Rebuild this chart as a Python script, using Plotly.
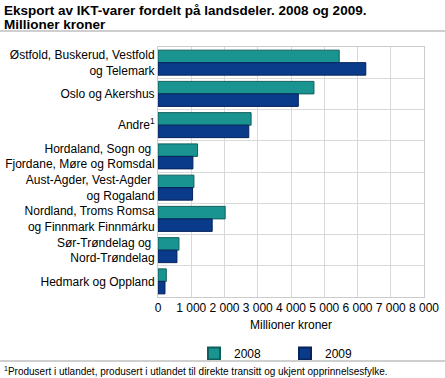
import plotly.graph_objects as go

categories = [
    "Østfold, Buskerud, Vestfold<br>og Telemark",
    "Oslo og Akershus",
    "Andre<sup>1</sup>",
    "Hordaland, Sogn og <br>Fjordane, Møre og Romsdal",
    "Aust-Agder, Vest-Agder <br>og Rogaland",
    "Nordland, Troms Romsa<br>og Finnmark Finnmárku",
    "Sør-Trøndelag og <br>Nord-Trøndelag",
    "Hedmark og Oppland",
]
values_2008 = [5450, 4690, 2800, 1190, 1080, 2020, 630, 250]
values_2009 = [6250, 4220, 2730, 1050, 1040, 1630, 570, 210]
x_ticks = [0, 1000, 2000, 3000, 4000, 5000, 6000, 7000, 8000]
x_ticklabels = ["0", "1 000", "2 000", "3 000", "4 000", "5 000", "6 000", "7 000", "8 000"]
title_lines = ["Eksport av IKT-varer fordelt på landsdeler. 2008 og 2009.", "Millioner kroner"]

pos = list(range(len(categories)))
font = "Liberation Sans"
W, H = 445, 378
L, T, R, B = 158, 47, 21, 81
PW, PH = W - L - R, H - T - B

fig = go.Figure()
fig.add_trace(go.Bar(y=pos, x=values_2008, name="2008", orientation="h",
                     marker=dict(color="#1a9490", line=dict(color="#0e5f5c", width=1))))
fig.add_trace(go.Bar(y=pos, x=values_2009, name="2009", orientation="h",
                     marker=dict(color="#0a3a8a", line=dict(color="#06235a", width=1))))

fig.update_layout(
    width=W, height=H,
    margin=dict(l=L, r=R, t=T, b=B, autoexpand=False),
    paper_bgcolor="white", plot_bgcolor="white",
    font=dict(family=font, size=12, color="#000"),
    barmode="group", bargap=0.2, bargroupgap=0,
    showlegend=True,
    legend=dict(orientation="h", xref="container", x=194 / W, xanchor="left",
                yref="container", y=1 - 339 / H, yanchor="top",
                font=dict(size=12), traceorder="normal",
                entrywidth=46, entrywidthmode="pixels", itemsizing="constant"),
    xaxis=dict(range=[0, 8000], tickvals=x_ticks, ticktext=x_ticklabels, tickangle=0,
               showgrid=True, gridcolor="#d9d9d9", gridwidth=1, automargin=False,
               showline=True, linecolor="#cccccc", mirror=True, zeroline=False,
               ticks="", tickfont=dict(size=12),
               title=dict(text="Millioner kroner", font=dict(size=12), standoff=6)),
    yaxis=dict(tickvals=pos, ticktext=categories, autorange=False,
               range=[len(categories) - 0.5, -0.5], automargin=False,
               showgrid=False, zeroline=False, showline=True, linecolor="#cccccc", mirror=True,
               ticks="", tickfont=dict(size=12),
               minor=dict(tickvals=[p + 0.5 for p in pos[:-1]], showgrid=True,
                          gridcolor="#d9d9d9", gridwidth=1, ticks="")),
)

for line_text, yc in zip(title_lines, [10, 25]):
    fig.add_annotation(text="<b>" + line_text + "</b>",
                       xref="paper", yref="paper", x=-(L - 3) / PW, y=1 + (T - yc) / PH,
                       xanchor="left", yanchor="middle", borderpad=0,
                       align="left", showarrow=False, font=dict(size=13.5, family=font))

# separator rules (drawn as thin filled annotation boxes)
sep_y = [1 + (T - 31) / PH, -(361 - H + B) / PH]
for yy in sep_y:
    fig.add_annotation(text=" ", xref="paper", yref="paper", x=-L / PW, y=yy,
                       xanchor="left", yanchor="middle", showarrow=False,
                       width=W, height=2, borderpad=0, borderwidth=0,
                       bgcolor="#cfcfcf", font=dict(size=1))

fig.add_annotation(text="<sup>1</sup>Produsert i utlandet, produsert i utlandet til direkte transitt og ukjent opprinnelsesfylke.",
                   xref="paper", yref="paper", x=-(L - 2) / PW, y=-(363 - H + B) / PH,
                   xanchor="left", yanchor="top",
                   showarrow=False, font=dict(size=10, family=font))

fig.write_html("out.html", config={"displayModeBar": False},
               post_script="document.body.style.margin='0';")
